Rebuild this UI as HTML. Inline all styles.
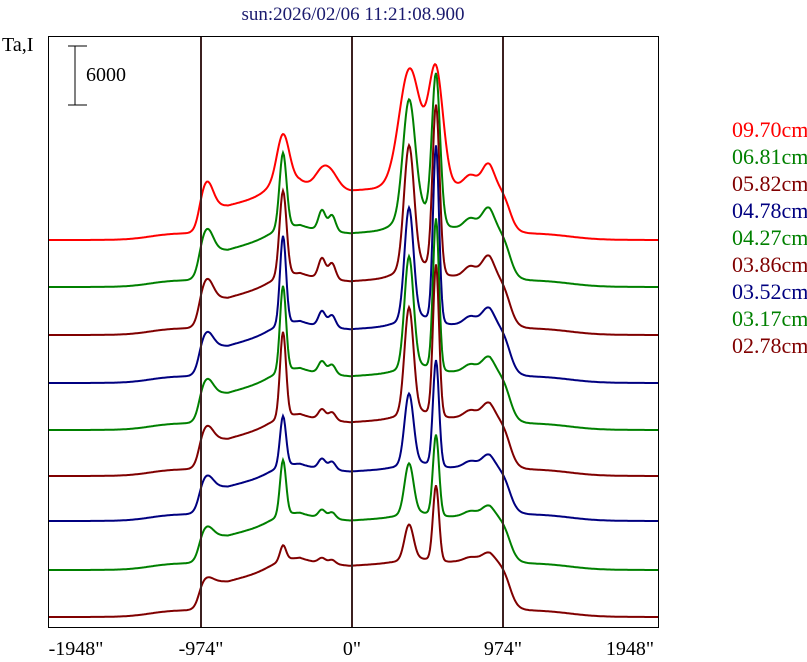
<!DOCTYPE html>
<html><head><meta charset="utf-8"><style>
html,body{margin:0;padding:0;background:#fff;}
body{width:807px;height:662px;overflow:hidden;position:relative;}
svg{position:absolute;left:0;top:0;}
svg text{font-family:"Liberation Serif","DejaVu Serif",serif;}
</style></head><body>
<svg id="s" width="807" height="662" viewBox="0 0 807 662" xmlns="http://www.w3.org/2000/svg">
<rect x="0" y="0" width="807" height="662" fill="#fff"/>
<text x="353" y="20" font-size="19" fill="#1a1a6e" text-anchor="middle">sun:2026/02/06 11:21:08.900</text>
<text x="2" y="51" font-size="20" fill="#000">Ta,I</text>
<line x1="75" y1="46" x2="75" y2="105" stroke="#000" stroke-width="1"/>
<line x1="68" y1="46" x2="87" y2="46" stroke="#000" stroke-width="1"/>
<line x1="68" y1="105" x2="87" y2="105" stroke="#000" stroke-width="1"/>
<text x="86" y="81" font-size="20" fill="#000">6000</text>
<g id="curves"></g>
<rect x="48.5" y="36.5" width="610" height="591" fill="none" stroke="#000" stroke-width="1"/>
<line x1="201" y1="37" x2="201" y2="627" stroke="#3c2020" stroke-width="2"/>
<line x1="352" y1="37" x2="352" y2="627" stroke="#3c2020" stroke-width="2"/>
<line x1="503" y1="37" x2="503" y2="627" stroke="#3c2020" stroke-width="2"/>
<g font-size="20" fill="#000" text-anchor="middle">
<text x="76" y="655">-1948"</text>
<text x="201" y="655">-974"</text>
<text x="352" y="655">0"</text>
<text x="503" y="655">974"</text>
<text x="630" y="655">1948"</text>
</g>
<g font-size="22">
<text x="732" y="137" fill="#ff0000">09.70cm</text>
<text x="732" y="164" fill="#008000">06.81cm</text>
<text x="732" y="191" fill="#800000">05.82cm</text>
<text x="732" y="218" fill="#000080">04.78cm</text>
<text x="732" y="245" fill="#008000">04.27cm</text>
<text x="732" y="272" fill="#800000">03.86cm</text>
<text x="732" y="299" fill="#000080">03.52cm</text>
<text x="732" y="326" fill="#008000">03.17cm</text>
<text x="732" y="353" fill="#800000">02.78cm</text>
</g>
</svg>
<script>
(function(){
var R="#ff0000",G="#008000",D="#800000",B="#000080";
var C=[
[R,240,50,25,45,6,16,95,10,105,7,20,28],
[G,287,55,22,75,3.5,20,112,6,145,4,18,22],
[D,335,55,20,85,3.5,20,120,5,165,3.5,18,15],
[B,383,55,15,88,3,15,110,4.5,175,3,14,10],
[G,430,55,15,85,3,12,110,4.5,150,3,12,8],
[D,476,55,14,85,3,10,105,4.5,150,3,12,8],
[B,521,50,12,50,3,10,70,4.5,105,3,10,6],
[G,570,50,10,55,3,8,50,4.5,80,3,8,5],
[D,617,52,5,15,3,5,35,4.5,75,3,6,4]
];
var F=[[199,0.55],[207,0.55],[228,0.55],[280,0.82],[300,0.95],[350,0.85],[390,0.9],[450,0.92],[490,1.0],[505,0.9],[520,0.8]];
function fr(x){if(x<=F[0][0])return F[0][1];for(var i=1;i<F.length;i++){if(x<=F[i][0]){var a=F[i-1],b=F[i];return a[1]+(b[1]-a[1])*(x-a[0])/(b[0]-a[0]);}}return F[F.length-1][1];}
function g(x,m,s){return Math.exp(-(x-m)*(x-m)/(2*s*s));}
function sg(t){return 1/(1+Math.exp(-t));}
var out="";
C.forEach(function(c){
 var d="";
 for(var x=49;x<=658;x++){
  var pre=7*sg((x-150)/12)*sg((570-x)/15);
  var disk=c[2]*fr(x)*sg((x-199)/2.5)*sg((510-x)/4);
  var v=pre+disk;
  v+= c[3]*g(x,207,6);
  v+= c[4]*g(x,283,c[5]) + (c[0]==R?12:6)*g(x,283,14);
  v+= c[6]*g(x,322,(c[0]==R?7:3.5)) + c[6]*0.8*g(x,332,(c[0]==R?7:3.5));
  v+= c[7]*g(x,409,c[8]);
  v+= c[9]*g(x,436,c[10]);
  v+= c[12]*g(x,418,16);
  v+= c[11]*g(x,488,6)+ c[11]*0.5*g(x,470,6);
  var y=c[1]-v;
  d+=(x==49?"M":"L")+x+" "+y.toFixed(1);
 }
 out+='<path d="'+d+'" fill="none" stroke="'+c[0]+'" stroke-width="2"/>';
});
document.getElementById("curves").innerHTML=out;
})();
</script>
</body></html>
